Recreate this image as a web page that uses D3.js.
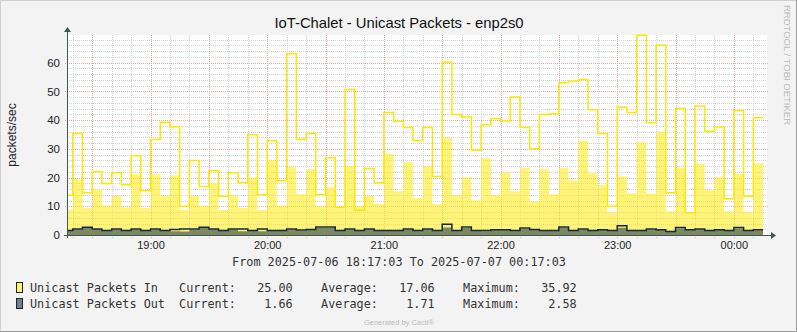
<!DOCTYPE html>
<html>
<head>
<meta charset="utf-8">
<script src="https://cdn.jsdelivr.net/npm/d3@7"></script>
<style>
  html, body { margin: 0; padding: 0; background: #F3F3F3; }
  svg { display: block; }
</style>
</head>
<body>
<svg id="chart" width="797" height="332"></svg>
<script>
// ---- data: 5-minute intervals, first one ends at 18:20 ----
const firstIntervalEnd = new Date(2025, 6, 6, 18, 20, 0);
const rangeStart = new Date(2025, 6, 6, 18, 17, 3);
const rangeEnd = new Date(2025, 6, 7, 0, 17, 3);
const stepMinutes = 5;

// Unicast Packets In (average, area)
const inAvg = [
  8.9, 19.4, 9.4, 15.8, 10.3, 13.6, 9.7, 21.1, 9.4, 21.1, 13.6, 20.8,
  8.8, 13.6, 10.1, 18.0, 8.7, 13.8, 9.4, 20.0, 8.7, 26.0, 10.3, 23.7,
  14.2, 22.9, 10.0, 16.6, 9.4, 23.9, 10.0, 13.6, 10.8, 28.3, 15.2, 25.3,
  12.9, 23.9, 10.8, 33.8, 13.8, 20.1, 12.1, 26.7, 13.8, 21.8, 15.2, 23.3,
  11.7, 22.9, 14.2, 23.3, 19.0, 32.9, 21.5, 17.4, 7.9, 20.4, 14.4, 32.3,
  14.4, 35.9, 8.2, 23.4, 8.0, 24.8, 15.7, 20.1, 8.2, 21.2, 7.9, 25.0
];
// Unicast Packets In (peak, line)
const inPeak = [
  13.8, 35.3, 14.7, 22.0, 17.9, 21.7, 17.5, 27.6, 15.4, 33.2, 39.2, 37.7,
  10.0, 25.9, 16.9, 22.4, 13.5, 21.7, 18.2, 34.9, 14.0, 32.8, 18.9, 63.1,
  33.3, 35.3, 14.0, 26.9, 9.7, 50.6, 8.6, 23.1, 18.2, 42.6, 39.6, 37.4,
  32.9, 37.4, 20.4, 60.2, 41.9, 41.1, 29.5, 38.4, 40.5, 39.7, 48.0, 37.4,
  30.0, 41.9, 42.2, 53.0, 53.6, 54.1, 43.6, 35.3, 10.0, 44.5, 42.6, 69.5,
  39.1, 66.1, 14.7, 44.0, 7.7, 44.9, 36.1, 37.6, 12.6, 43.3, 13.5, 40.8
];
// Unicast Packets Out (average, area)
const outAvg = [
  1.55, 1.9, 2.5, 2.0, 1.55, 1.9, 1.55, 1.9, 1.55, 1.9, 1.55, 1.3,
  1.2, 1.9, 2.5, 2.0, 1.55, 1.9, 1.3, 1.55, 1.3, 1.55, 1.55, 1.9,
  1.6, 1.8, 2.5, 2.5, 1.55, 1.9, 1.55, 1.9, 1.55, 1.55, 1.55, 1.9,
  1.55, 1.9, 1.55, 2.58, 1.55, 2.4, 1.55, 1.3, 1.7, 1.7, 1.55, 2.1,
  1.7, 1.55, 1.55, 2.5, 1.55, 1.9, 1.55, 1.7, 1.55, 2.5, 1.55, 1.55,
  1.9, 1.7, 1.1, 2.3, 1.7, 1.9, 1.55, 1.7, 1.55, 2.3, 1.55, 1.66
];
// Unicast Packets Out (peak, line)
const outPeak = [
  1.6, 2.1, 2.7, 2.1, 1.6, 2.1, 1.6, 2.1, 1.6, 2.1, 1.6, 1.9,
  2.1, 2.1, 2.7, 2.1, 1.6, 2.1, 2.1, 1.6, 2.1, 1.6, 1.6, 2.1,
  1.7, 1.9, 2.8, 2.8, 1.6, 2.1, 1.6, 2.1, 1.6, 1.6, 1.6, 2.1,
  1.6, 2.1, 1.6, 3.7, 1.6, 2.8, 1.6, 1.6, 1.8, 1.8, 1.6, 2.4,
  1.9, 1.6, 1.6, 2.8, 1.6, 2.1, 1.6, 1.8, 1.6, 3.2, 1.6, 1.6,
  2.1, 1.8, 1.2, 2.6, 1.8, 2.1, 1.6, 1.8, 1.6, 2.6, 1.6, 1.8
];

const yTicks = [0, 10, 20, 30, 40, 50, 60];
const yMax = 69.6;

const chartTitle = "IoT-Chalet - Unicast Packets - enp2s0";
const yTitle = "packets/sec";
const periodText = "From 2025-07-06 18:17:03 To 2025-07-07 00:17:03";
const legendNames = ["Unicast Packets In", "Unicast Packets Out"];
const legendCurrent = ["25.00", "1.66"];
const legendAverage = ["17.06", "1.71"];
const legendMaximum = ["35.92", "2.58"];
const legendColors = ["#FFF36B", "#708090"];

// ---- layout ----
const W = 797, H = 332;
const plot = { left: 67, top: 35, width: 700, height: 200 };

const svg = d3.select("#chart");

// frame
svg.append("rect").attr("x", 0).attr("y", 0).attr("width", W).attr("height", H).attr("fill", "#F3F3F3");
svg.append("path").attr("d", `M0.5,${H} V0.5 H${W}`).attr("stroke", "#CFCFCF").attr("fill", "none");
svg.append("path").attr("d", `M${W - 0.5},0 V${H - 0.5} H0`).attr("stroke", "#9A9A9A").attr("fill", "none");

const x = d3.scaleTime().domain([rangeStart, rangeEnd]).range([plot.left, plot.left + plot.width]);
const y = d3.scaleLinear().domain([0, yMax]).range([plot.top + plot.height, plot.top]);

svg.append("rect")
  .attr("x", plot.left).attr("y", plot.top)
  .attr("width", plot.width).attr("height", plot.height)
  .attr("fill", "#FFFFFF");

// step series: one point at each interval start, plus a closing point
function stepPoints(values) {
  const pts = values.map((v, i) => ({
    t: new Date(firstIntervalEnd.getTime() + (i - 1) * stepMinutes * 60000),
    v
  }));
  pts.push({
    t: new Date(firstIntervalEnd.getTime() + (values.length - 1) * stepMinutes * 60000),
    v: values[values.length - 1]
  });
  return pts;
}

const defs = svg.append("defs");
defs.append("clipPath").attr("id", "plotClip")
  .append("rect")
  .attr("x", plot.left).attr("y", plot.top - 2)
  .attr("width", plot.width).attr("height", plot.height + 2);

const areaGen = d3.area().x(d => x(d.t)).y0(y(0)).y1(d => y(d.v)).curve(d3.curveStepAfter);
const lineGen = d3.line().x(d => x(d.t)).y(d => y(d.v)).curve(d3.curveStepAfter);

// grid (drawn first, visible through translucent area)
const gridG = svg.append("g");
const minorY = d3.range(2, yMax, 2).filter(v => v % 10 !== 0);
const majorY = d3.range(10, yMax, 10);
const t0 = new Date(2025, 6, 6, 18, 20, 0);
const minorX = d3.timeMinute.every(10).range(t0, rangeEnd).filter(t => t.getMinutes() % 30 !== 0);
const majorX = d3.timeMinute.every(30).range(t0, rangeEnd);

gridG.selectAll(".hmin").data(minorY).join("line")
  .attr("x1", plot.left).attr("x2", plot.left + plot.width)
  .attr("y1", d => Math.round(y(d)) + 0.5).attr("y2", d => Math.round(y(d)) + 0.5)
  .attr("stroke", "#D2D2D2").attr("stroke-dasharray", "1,1");
gridG.selectAll(".vmin").data(minorX).join("line")
  .attr("x1", d => Math.round(x(d)) + 0.5).attr("x2", d => Math.round(x(d)) + 0.5)
  .attr("y1", plot.top).attr("y2", plot.top + plot.height + 3)
  .attr("stroke", "#D2D2D2").attr("stroke-dasharray", "1,1");
gridG.selectAll(".hmaj").data(majorY).join("line")
  .attr("x1", plot.left - 2).attr("x2", plot.left + plot.width + 2)
  .attr("y1", d => Math.round(y(d)) + 0.5).attr("y2", d => Math.round(y(d)) + 0.5)
  .attr("stroke", "#EBA8A8").attr("stroke-dasharray", "1,1");
gridG.selectAll(".vmaj").data(majorX).join("line")
  .attr("x1", d => Math.round(x(d)) + 0.5).attr("x2", d => Math.round(x(d)) + 0.5)
  .attr("y1", plot.top).attr("y2", plot.top + plot.height + 3)
  .attr("stroke", "#EBA8A8").attr("stroke-dasharray", "1,1");

// series
const g = svg.append("g").attr("clip-path", "url(#plotClip)");
g.append("path").datum(stepPoints(inAvg)).attr("d", areaGen)
  .attr("fill", "#FFEB1A").attr("fill-opacity", 0.58);
g.append("path").datum(stepPoints(outAvg)).attr("d", areaGen)
  .attr("fill", "#7E8860");
g.append("path").datum(stepPoints(inPeak)).attr("d", lineGen)
  .attr("fill", "none").attr("stroke", "#FFE800").attr("stroke-width", 1.5);
g.append("path").datum(stepPoints(outPeak)).attr("d", lineGen)
  .attr("fill", "none").attr("stroke", "#0F2B4A").attr("stroke-width", 1.5);

// axes
const axisColor = "#3C5A52";
const yAxis = d3.axisLeft(y).tickValues(yTicks).tickSize(0).tickPadding(7);
const yAxG = svg.append("g").attr("transform", `translate(${plot.left},0)`).call(yAxis);
yAxG.select(".domain").remove();
yAxG.selectAll("text").attr("font-family", "Liberation Sans, Arial, sans-serif")
  .attr("font-size", 11.5).attr("fill", "#222");

const xAxis = d3.axisBottom(x).ticks(d3.timeHour.every(1)).tickFormat(d3.timeFormat("%H:%M"))
  .tickSize(0).tickPadding(6);
const xAxG = svg.append("g").attr("transform", `translate(0,${plot.top + plot.height})`).call(xAxis);
xAxG.select(".domain").remove();
xAxG.selectAll("text").attr("font-family", "Liberation Sans, Arial, sans-serif")
  .attr("font-size", 11).attr("fill", "#222");

// axis lines with arrows
svg.append("line").attr("x1", plot.left - 3).attr("x2", plot.left + plot.width + 4)
  .attr("y1", plot.top + plot.height + 0.5).attr("y2", plot.top + plot.height + 0.5)
  .attr("stroke", axisColor);
svg.append("line").attr("x1", plot.left + 0.5).attr("x2", plot.left + 0.5)
  .attr("y1", plot.top + plot.height + 3).attr("y2", plot.top - 4)
  .attr("stroke", axisColor);
svg.append("path")
  .attr("d", `M${plot.left + plot.width + 4},${plot.top + plot.height - 3} L${plot.left + plot.width + 9},${plot.top + plot.height + 0.5} L${plot.left + plot.width + 4},${plot.top + plot.height + 4} Z`)
  .attr("fill", axisColor);
svg.append("path")
  .attr("d", `M${plot.left - 3},${plot.top - 3} L${plot.left + 0.5},${plot.top - 8} L${plot.left + 4},${plot.top - 3} Z`)
  .attr("fill", axisColor);

// title
svg.append("text").attr("x", 399).attr("y", 28).attr("text-anchor", "middle")
  .attr("font-family", "Liberation Sans, Arial, sans-serif").attr("font-size", 14.8)
  .attr("fill", "#111").text(chartTitle);

// y title
svg.append("text")
  .attr("transform", `translate(16,${plot.top + plot.height / 2}) rotate(-90)`)
  .attr("text-anchor", "middle")
  .attr("font-family", "Liberation Sans, Arial, sans-serif").attr("font-size", 12)
  .attr("fill", "#222").text(yTitle);

// vertical watermark
svg.append("text")
  .attr("transform", `translate(784,5) rotate(90)`)
  .attr("font-family", "Liberation Sans, Arial, sans-serif").attr("font-size", 9.5)
  .attr("fill", "#BBBBBB").text("RRDTOOL / TOBI OETIKER");

// period line
const mono = "DejaVu Sans Mono, monospace";
svg.append("text").attr("x", 399).attr("y", 266).attr("text-anchor", "middle")
  .attr("font-family", mono).attr("font-size", 11.8).attr("fill", "#333")
  .text(periodText);

// legend
const cw = 7.1, lx = 30;
const rowsY = [292, 308];
legendNames.forEach((name, i) => {
  const ry = rowsY[i];
  svg.append("rect").attr("x", 16.5).attr("y", ry - 9.5).attr("width", 6).attr("height", 10)
    .attr("fill", legendColors[i]).attr("stroke", "#222").attr("stroke-width", 1);
  const cols = [
    { c: 0, s: name, a: "start" },
    { c: 21, s: "Current:", a: "start" },
    { c: 37, s: legendCurrent[i], a: "end" },
    { c: 41, s: "Average:", a: "start" },
    { c: 57, s: legendAverage[i], a: "end" },
    { c: 61, s: "Maximum:", a: "start" },
    { c: 77, s: legendMaximum[i], a: "end" }
  ];
  cols.forEach(col => {
    svg.append("text").attr("x", lx + col.c * cw).attr("y", ry)
      .attr("text-anchor", col.a)
      .attr("font-family", mono).attr("font-size", 11.8).attr("fill", "#333")
      .text(col.s);
  });
});

svg.append("text").attr("x", 399).attr("y", 325).attr("text-anchor", "middle")
  .attr("font-family", "Liberation Sans, Arial, sans-serif").attr("font-size", 7.5)
  .attr("fill", "#BBBBBB").text("Generated by Cacti®");
</script>
</body>
</html>
